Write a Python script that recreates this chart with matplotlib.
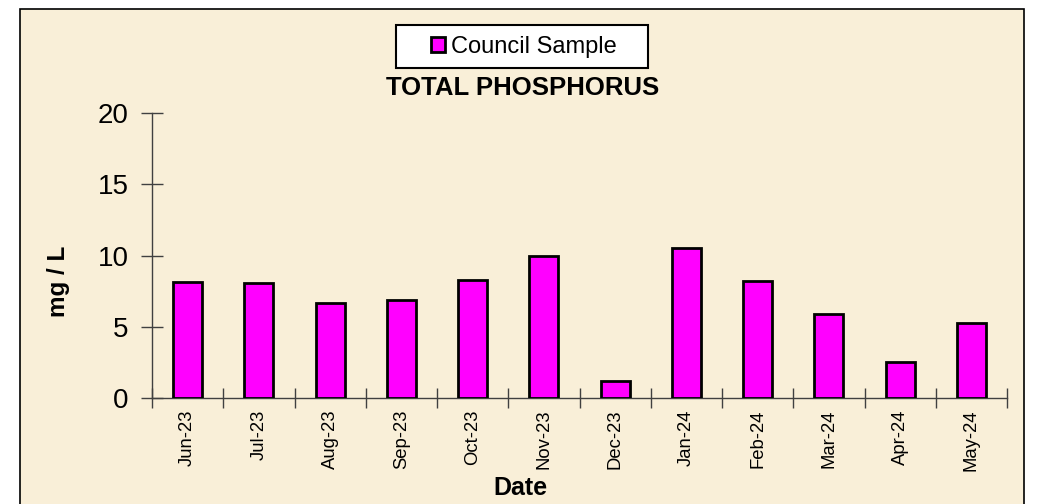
import numpy as np
import matplotlib
matplotlib.use('Agg')
import matplotlib.pyplot as plt
from matplotlib.patches import Rectangle

# Monthly council samples of total phosphorus (mg/L)
months = ['Jun-23', 'Jul-23', 'Aug-23', 'Sep-23', 'Oct-23', 'Nov-23',
          'Dec-23', 'Jan-24', 'Feb-24', 'Mar-24', 'Apr-24', 'May-24']
phosphorus = [8.15, 8.1, 6.7, 6.85, 8.3, 10.0, 1.2, 10.5, 8.2, 5.9, 2.5, 5.25]
y_ticks = [0, 5, 10, 15, 20]

plt.rcParams['font.family'] = ['Liberation Sans', 'DejaVu Sans']

W, H = 1037, 504
fig = plt.figure(figsize=(W / 100, H / 100), dpi=100)
fig.patch.set_facecolor('white')

# Parchment chart area with black border
fig.patches.append(Rectangle((20 / W, -0.05), (1024 - 20) / W, 1.05 - 9 / H,
                             transform=fig.transFigure, facecolor='#F9EFD8',
                             edgecolor='black', linewidth=1.2, zorder=-2))
# legend box
fig.patches.append(Rectangle((396 / W, 1 - 68 / H), (648 - 396) / W, 43 / H,
                             transform=fig.transFigure, facecolor='white',
                             edgecolor='black', linewidth=1.5, zorder=-1))

ax = fig.add_axes([152 / W, 106 / H, (1007 - 152) / W, (398 - 113) / H])
ax.patch.set_visible(False)

x = np.arange(len(months))
bars = ax.bar(x, phosphorus, width=0.41, color='#FF00FF', edgecolor='black',
              linewidth=2, label='Council Sample', zorder=3)

ax.set_xlim(-0.5, len(months) - 0.5)
ax.set_ylim(0, 20)
ax.set_yticks(y_ticks)
ax.tick_params(axis='y', direction='inout', length=16, width=1, color='#404040',
               labelsize=20, pad=9)

# boundary ticks without labels, labels centred under bars
ax.set_xticks(np.arange(len(months) + 1) - 0.5)
ax.set_xticklabels([])
ax.set_xticks(x, minor=True)
ax.set_xticklabels(months, minor=True, rotation=90, fontsize=13.3, va='top')
ax.tick_params(axis='x', which='major', direction='inout', length=14, width=1,
               color='#404040')
ax.tick_params(axis='x', which='minor', length=0, pad=8.5)

for side in ['top', 'right']:
    ax.spines[side].set_visible(False)
for side in ['left', 'bottom']:
    ax.spines[side].set_color('#404040')
    ax.spines[side].set_linewidth(1)

fig.text(520 / W, 1 - 488 / H, 'Date', ha='center', va='center',
         fontsize=18, fontweight='bold')
fig.text(59 / W, 1 - 281 / H, 'mg / L', ha='center', va='center',
         rotation=90, fontsize=17.5, fontweight='bold')
fig.text(523 / W, 1 - 88 / H, 'TOTAL PHOSPHORUS', ha='center', va='center',
         fontsize=18.5, fontweight='bold')

leg = ax.legend(loc='center left', bbox_to_anchor=(431 / W, 1 - 46.5 / H),
                bbox_transform=fig.transFigure, frameon=False, fontsize=17,
                handlelength=0.6, handleheight=0.6, handletextpad=0.25,
                borderpad=0, borderaxespad=0)

fig.savefig('out.png', dpi=100)
